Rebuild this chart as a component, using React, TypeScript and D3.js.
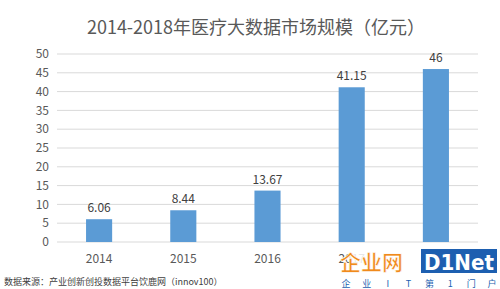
import React from "react";
import * as d3 from "d3";

const categories = ["2014", "2015", "2016", "2017", "2018"];
const values = [6.06, 8.44, 13.67, 41.15, 46];
const valueLabels = ["6.06", "8.44", "13.67", "41.15", "46"];
const yTicks = [0, 5, 10, 15, 20, 25, 30, 35, 40, 45, 50];
const title = "2014-2018年医疗大数据市场规模（亿元）";
const source = "数据来源：产业创新创投数据平台饮鹿网（innov100）";
const logoChars = ["企", "业", "I", "T", "第", "1", "门", "户"];

const W = 500, H = 289;
const left = 57, right = 478, top = 54, bottom = 242;

export default function App() {
  const x = d3.scaleBand().domain(categories).range([left, right]).paddingInner(0.69).paddingOuter(0.345);
  const y = d3.scaleLinear().domain([0, 50]).range([bottom, top]);
  const lx = d3.scalePoint().domain(logoChars.map((_, i) => String(i))).range([346, 492]);
  const font = "'Microsoft YaHei', 'Noto Sans CJK SC', 'Noto Sans', sans-serif";
  return (
    <svg width={W} height={H} style={{ position: "absolute", left: 0, top: 0, background: "#fff" }} fontFamily={font}>
      <rect width={W} height={H} fill="#fff" />
      <text x={256} y={34} textAnchor="middle" fontSize={18} fill="#595959">{title}</text>
      {yTicks.map((t) => (
        <g key={t}>
          <line x1={left} x2={right} y1={y(t)} y2={y(t)} stroke="#d9d9d9" strokeWidth={1} />
          <text x={49} y={y(t)} dy="0.35em" textAnchor="end" fontSize={12} fill="#595959">{t}</text>
        </g>
      ))}
      {categories.map((c, i) => (
        <g key={c}>
          <rect x={x(c)!} width={x.bandwidth()} y={y(values[i])} height={bottom - y(values[i])} fill="#5b9bd5" />
          <text x={x(c)! + x.bandwidth() / 2} y={y(values[i]) - 7} textAnchor="middle" fontSize={12} fill="#404040">{valueLabels[i]}</text>
          <text x={x(c)! + x.bandwidth() / 2} y={263} textAnchor="middle" fontSize={12} fill="#595959">{c}</text>
        </g>
      ))}
      <text x={4} y={285} fontSize={9} fill="#404040">{source}</text>
      <rect x={350} y={247} width={150} height={42} fill="#fff" opacity={0.85} />
      <text x={340} y={270} fontSize={21} fontWeight="bold" fill="#f08a1c" stroke="#fff" strokeWidth={0.6} fontFamily="'Noto Sans CJK SC', sans-serif">企业网</text>
      <rect x={421} y={249} width={76} height={24} fill="#1d5fb0" />
      <text x={424} y={270} textLength={70} lengthAdjust="spacingAndGlyphs" fontSize={22} fontWeight="bold" fill="#fff" fontFamily="'DejaVu Sans', sans-serif">D1Net</text>
      {logoChars.map((ch, i) => (
        <text key={i} x={lx(String(i))!} y={287} textAnchor="middle" fontSize={9} fill="#1d5fb0">{ch}</text>
      ))}
    </svg>
  );
}
